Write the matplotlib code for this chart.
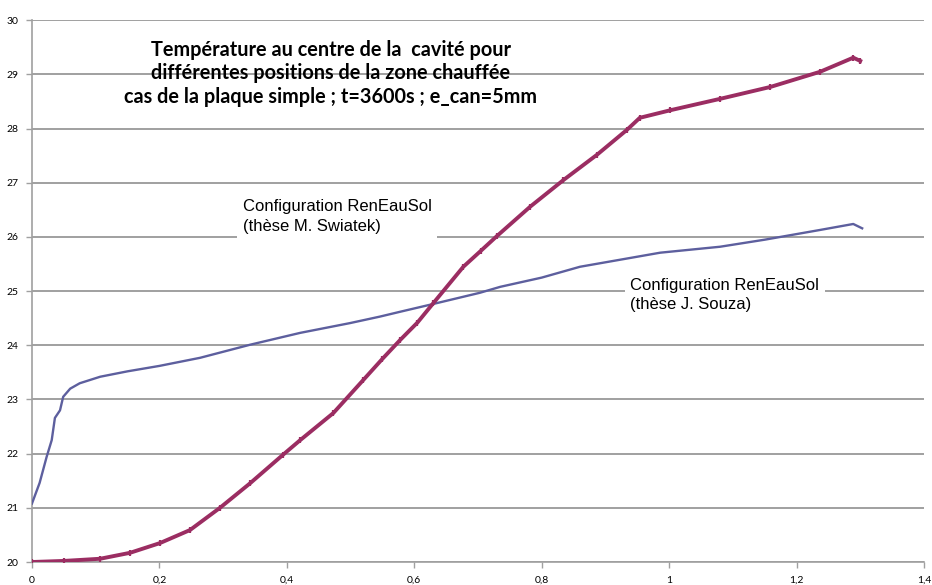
import numpy as np
import matplotlib
matplotlib.use('Agg')
import matplotlib.pyplot as plt

# courbe bleue : configuration RenEauSol (thèse J. Souza)
x_souza = [0, 0.012, 0.023, 0.031, 0.036, 0.044, 0.049, 0.06, 0.075, 0.091,
           0.107, 0.15, 0.2, 0.264, 0.342, 0.421, 0.499, 0.546, 0.578, 0.625,
           0.703, 0.735, 0.80, 0.860, 0.923, 0.986, 1.080, 1.15, 1.237, 1.289, 1.303]
t_souza = [21.08, 21.46, 21.94, 22.25, 22.66, 22.8, 23.05, 23.2, 23.3, 23.36,
           23.42, 23.52, 23.62, 23.77, 24.01, 24.23, 24.41, 24.53, 24.62, 24.75,
           24.97, 25.08, 25.25, 25.45, 25.58, 25.71, 25.82, 25.95, 26.13, 26.24, 26.16]

# courbe bordeaux : configuration RenEauSol (thèse M. Swiatek)
x_swiatek = [0, 0.05, 0.107, 0.154, 0.201, 0.248, 0.295, 0.342, 0.394, 0.421,
             0.473, 0.520, 0.55, 0.578, 0.605, 0.630, 0.677, 0.705, 0.730, 0.782,
             0.834, 0.887, 0.934, 0.954, 1.002, 1.080, 1.159, 1.237, 1.289, 1.300]
t_swiatek = [20.0, 20.02, 20.06, 20.17, 20.35, 20.59, 21.0, 21.45, 21.98, 22.25,
             22.75, 23.36, 23.75, 24.1, 24.42, 24.78, 25.45, 25.75, 26.02, 26.56,
             27.05, 27.52, 27.98, 28.2, 28.34, 28.55, 28.77, 29.05, 29.31, 29.25]

xticks = [0, 0.2, 0.4, 0.6, 0.8, 1, 1.2, 1.4]
xlabels = ['0', '0,2', '0,4', '0,6', '0,8', '1', '1,2', '1,4']
yticks = [20, 21, 22, 23, 24, 25, 26, 27, 28, 29, 30]

titre = ('Température au centre de la  cavité pour\n'
         'différentes positions de la zone chauffée\n'
         'cas de la plaque simple ; t=3600s ; e_can=5mm')

fig = plt.figure(figsize=(9.32, 5.85), dpi=100)
ax = fig.add_axes([0.0343, 0.0393, 0.9571, 0.926])

gris = '#a0a0a0'
ax.set_xlim(0, 1.4)
ax.set_ylim(20, 30)
ax.set_xticks(xticks)
ax.set_xticklabels(xlabels)
ax.set_yticks(yticks)
ax.yaxis.grid(True, color=gris, linewidth=1.4)
ax.set_axisbelow(True)
for s in ['top', 'right']:
    ax.spines[s].set_visible(False)
for s in ['left', 'bottom']:
    ax.spines[s].set_color(gris)
    ax.spines[s].set_linewidth(1.2)
ax.tick_params(axis='both', colors=gris, length=4, width=1, labelcolor='black',
               labelsize=7.5, pad=6)
for lab in ax.get_xticklabels() + ax.get_yticklabels():
    lab.set_fontfamily('Lato')

ax.plot(x_souza, t_souza, color='#5d5f9e', linewidth=1.7, zorder=3)
ax.plot(x_swiatek, t_swiatek, color='#9b2d62', linewidth=2.8, marker='|',
        markersize=4.5, markeredgewidth=1.6, zorder=3)

ax.text(0.469, 29.02, titre, ha='center', va='center', fontsize=14.3,
        fontweight='bold', family='Lato', linespacing=1.2)

# boîtes blanches qui masquent la grille sous les annotations
boite = dict(facecolor='white', edgecolor='none', pad=4)
ax.text(0.331, 26.38, 'Configuration RenEauSol\n(thèse M. Swiatek)', ha='left',
        va='center', fontsize=12, family='Liberation Sans', bbox=boite,
        linespacing=1.4, zorder=4)
ax.text(0.939, 24.93, 'Configuration RenEauSol\n(thèse J. Souza)', ha='left',
        va='center', fontsize=12, family='Liberation Sans', bbox=boite,
        linespacing=1.4, zorder=4)

plt.savefig('out.png', dpi=100)
